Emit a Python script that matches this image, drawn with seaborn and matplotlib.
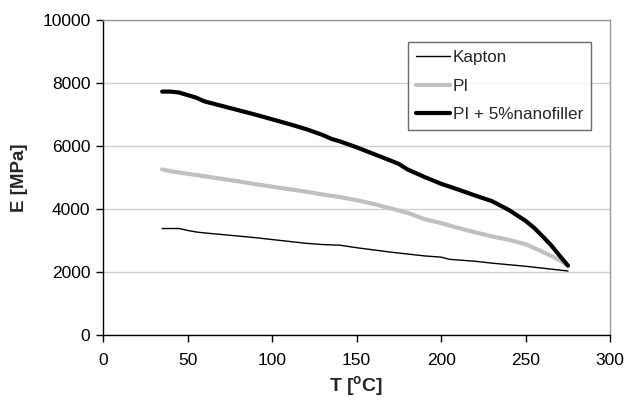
import numpy as np
import pandas as pd
import matplotlib
matplotlib.use("Agg")
import matplotlib.pyplot as plt
import seaborn as sns

kapton_T = [35, 45, 50, 55, 60, 70, 80, 90, 100, 110, 120, 130, 140, 150, 160, 170, 180, 190, 200, 205, 210, 220, 230, 240, 250, 260, 270, 275]
kapton_E = [3380, 3380, 3320, 3270, 3240, 3190, 3140, 3090, 3030, 2970, 2910, 2870, 2850, 2770, 2700, 2630, 2570, 2510, 2470, 2400, 2380, 2340, 2280, 2230, 2180, 2120, 2060, 2030]

pi_T = [35, 40, 50, 60, 70, 80, 90, 100, 110, 120, 130, 140, 150, 160, 170, 180, 190, 200, 210, 220, 230, 240, 250, 260, 270, 275]
pi_E = [5260, 5200, 5120, 5040, 4960, 4880, 4790, 4710, 4630, 4550, 4460, 4380, 4280, 4160, 4020, 3880, 3680, 3550, 3400, 3260, 3130, 3020, 2880, 2640, 2380, 2200]

nano_T = [35, 40, 45, 50, 55, 60, 70, 80, 90, 100, 110, 120, 130, 135, 140, 150, 160, 170, 175, 180, 190, 200, 210, 220, 230, 240, 250, 255, 260, 265, 270, 275]
nano_E = [7730, 7730, 7700, 7620, 7540, 7420, 7280, 7140, 7000, 6850, 6700, 6540, 6350, 6230, 6150, 5960, 5750, 5540, 5430, 5260, 5020, 4800, 4620, 4430, 4250, 3970, 3620, 3400, 3130, 2850, 2520, 2200]

series_names = ["Kapton", "PI", "PI + 5%nanofiller"]

df = pd.concat([
    pd.DataFrame({"T": kapton_T, "E": kapton_E, "series": series_names[0]}),
    pd.DataFrame({"T": pi_T, "E": pi_E, "series": series_names[1]}),
    pd.DataFrame({"T": nano_T, "E": nano_E, "series": series_names[2]}),
], ignore_index=True)

sns.set_theme(style="white")
plt.rcParams['font.family'] = ['Liberation Sans', 'DejaVu Sans']

fig = plt.figure(figsize=(6.24, 4.03), dpi=100)
ax = fig.add_axes([0.165, 0.169, 0.813, 0.781])

palette = {"Kapton": "black", "PI": "#c0c0c0", "PI + 5%nanofiller": "black"}
widths = {"Kapton": 1.0, "PI": 3.0, "PI + 5%nanofiller": 3.0}

for name in series_names:
    sub = df[df["series"] == name]
    sns.lineplot(data=sub, x="T", y="E", color=palette[name], lw=widths[name],
                 ax=ax, label=name, sort=False, solid_capstyle="round")

ax.set_xlim(0, 300)
ax.set_ylim(0, 10000)
ax.set_xticks(np.arange(0, 301, 50))
ax.set_yticks(np.arange(0, 10001, 2000))
ax.yaxis.grid(True, color="#d0d0d0", lw=1)
ax.xaxis.grid(False)
ax.set_axisbelow(True)

for s in ["left", "bottom"]:
    ax.spines[s].set_color("black")
    ax.spines[s].set_linewidth(1.0)
for s in ["top", "right"]:
    ax.spines[s].set_color("#999999")
    ax.spines[s].set_linewidth(1.0)

ax.tick_params(axis="both", which="major", direction="out", length=5, width=1,
               color="black", labelsize=12.5, labelcolor="black", bottom=True, left=True)
ax.tick_params(axis="x", pad=8)
ax.tick_params(axis="y", pad=4)

ax.set_xlabel("T [$\\mathregular{^{o}}$C]", fontsize=14, fontweight="bold", labelpad=4)
ax.set_ylabel("E [MPa]", fontsize=13.5, fontweight="bold", labelpad=10)

leg = ax.legend(loc="upper left", bbox_to_anchor=(0.602, 0.93), frameon=True, fancybox=False,
                edgecolor="#444444", fontsize=12.3, handlelength=2.0, handletextpad=0.15,
                borderpad=0.45, labelspacing=0.8, borderaxespad=0)
leg.get_frame().set_linewidth(1.0)

fig.savefig("out.png", dpi=100, facecolor="white")
